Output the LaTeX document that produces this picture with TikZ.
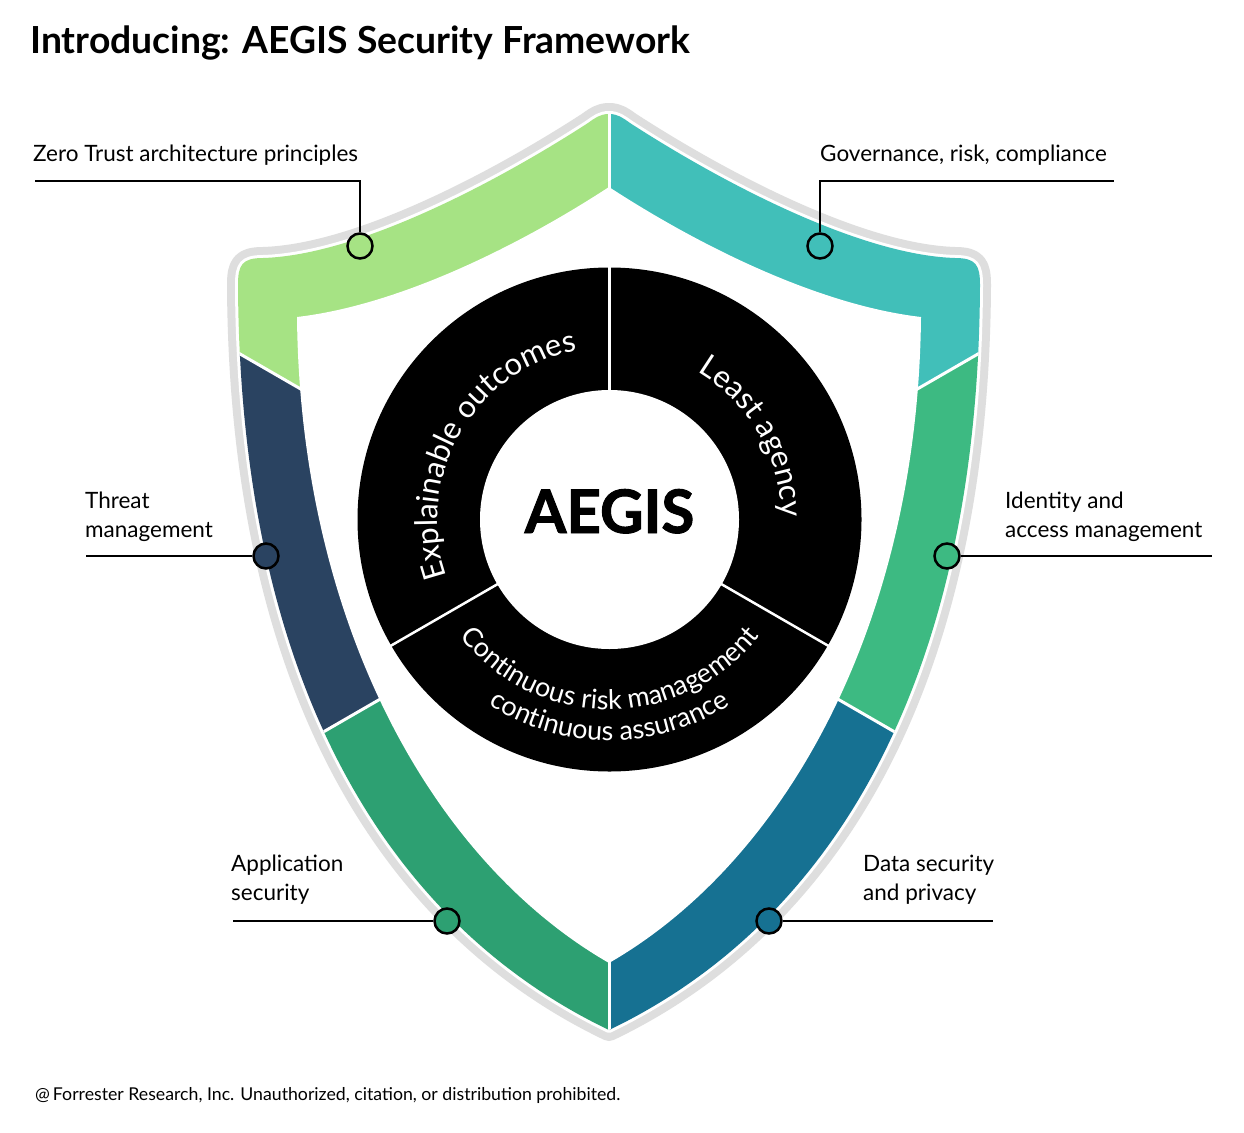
\documentclass[tikz,border=0pt]{standalone}
\usepackage{fontspec}
\setmainfont{Lato}
\newfontfamily\heavyfont{Lato Bold}[FakeBold=1.6]
\usetikzlibrary{decorations.text}

\definecolor{ztgreen}{HTML}{A6E384}
\definecolor{grcteal}{HTML}{41BFB9}
\definecolor{threatnavy}{HTML}{2A4361}
\definecolor{iamgreen}{HTML}{3DBA82}
\definecolor{appgreen}{HTML}{2DA072}
\definecolor{datablue}{HTML}{167192}
\definecolor{rimgray}{HTML}{DEDEDE}

% outer edge of the coloured band, and the edge of the white field inside it
\newcommand{\shieldouter}{(609,-114) .. controls (600,-114) and (595,-118) .. (588,-123)
  .. controls (500,-180) and (360,-255) .. (263,-258)
  .. controls (242,-258) and (238,-265) .. (238,-285)
  .. controls (240,-700) and (400,-930) .. (609,-1030)
  .. controls (818,-930) and (978,-700) .. (980,-285)
  .. controls (980,-265) and (976,-258) .. (955,-258)
  .. controls (858,-255) and (718,-180) .. (630,-123)
  .. controls (623,-118) and (618,-114) .. (609,-114) -- cycle}
\newcommand{\shieldinner}{(609,-187) .. controls (520,-245) and (400,-305) .. (297,-317)
  .. controls (300,-620) and (430,-860) .. (609,-963)
  .. controls (788,-860) and (918,-620) .. (921,-317)
  .. controls (818,-305) and (698,-245) .. (609,-187) -- cycle}

\newcommand{\ringfont}{\fontsize{31}{33}\selectfont}
\newcommand{\corefont}{\fontsize{27}{30}\selectfont}

\tikzset{
  titletext/.style={inner sep=0pt, font=\bfseries\fontsize{37.3}{40}\selectfont},
  areatext/.style={inner sep=0pt, align=left, font=\fontsize{22.5}{29}\selectfont},
  marker/.style={circle, draw=black, line width=2.5pt, minimum size=25pt, inner sep=0pt},
  leader/.style={draw=black, line width=2.2pt},
}

\begin{document}
\begin{tikzpicture}[x=1pt, y=1pt]
\useasboundingbox (0,0) rectangle (1244,-1132);
\fill[white] (0,0) rectangle (1244,-1132);

\node[titletext, anchor=base west] (title) at (30,-54) {Introducing: AEGIS Security Framework};

% rim
\draw[rimgray, line width=22pt, line join=round] \shieldouter;
\draw[white, line width=6pt, line join=round] \shieldouter;

% band, one wedge per area
\coordinate (hub) at (609,-567);
\foreach \a/\b/\col in {90/150/ztgreen, 150/210/threatnavy, 210/270/appgreen,
                        270/330/datablue, 330/390/iamgreen, 30/90/grcteal}{
  \begin{scope}
    \clip (hub) -- +(\a:700pt) -- +(\b:700pt) -- cycle;
    \fill[\col] \shieldouter;
  \end{scope}
}
\fill[white] \shieldinner;
\begin{scope}
  \clip \shieldouter;
  \foreach \a in {30,90,...,330}
    \draw[white, line width=3pt] (hub) -- +(\a:700pt);
\end{scope}

% ring
\coordinate (ringc) at (609.5,-519.5);
\fill[black] (ringc) circle[radius=252pt];
\fill[white] (ringc) circle[radius=129.5pt];
\foreach \a in {90,210,330}
  \draw[white, line width=2.5pt] (ringc) ++(\a:129pt) -- +(\a:124pt);

\node[inner sep=0pt, anchor=base, font=\heavyfont\fontsize{60}{60}\selectfont] (aegis) at (609.5,-533) {AEGIS};

\path[decorate, decoration={text along path, text align=center, text color=white,
  text={|\ringfont|Explainable outcomes}}]
  (ringc) ++(210:172pt) arc[start angle=210, end angle=90, radius=172pt];
\path[decorate, decoration={text along path, text align=center, text color=white,
  text={|\ringfont|Least agency}}]
  (ringc) ++(80:172pt) arc[start angle=80, end angle=-20, radius=172pt];
\path[decorate, decoration={text along path, text align=center, text color=white,
  text={|\corefont|Continuous risk management}}]
  (ringc) ++(200:190pt) arc[start angle=200, end angle=340, radius=190pt];
\path[decorate, decoration={text along path, text align=center, text color=white,
  text={|\corefont|continuous assurance}}]
  (ringc) ++(210:221pt) arc[start angle=210, end angle=330, radius=221pt];

% markers and leaders
\node[marker, fill=ztgreen] (zt) at (360,-246) {};
\node[marker, fill=grcteal] (grc) at (820,-246) {};
\node[marker, fill=threatnavy] (tm) at (266,-556) {};
\node[marker, fill=iamgreen] (iam) at (947,-556) {};
\node[marker, fill=appgreen] (app) at (447,-921) {};
\node[marker, fill=datablue] (data) at (769,-921) {};

\coordinate (ztend) at (35,-181);
\coordinate (grcend) at (1114,-181);
\coordinate (tmend) at (86,-556);
\coordinate (iamend) at (1212,-556);
\coordinate (append) at (233,-921);
\coordinate (dataend) at (993,-921);

\draw[leader] (zt) |- (ztend);
\draw[leader] (grc) |- (grcend);
\draw[leader] (tm) -- (tmend);
\draw[leader] (iam) -- (iamend);
\draw[leader] (app) -- (append);
\draw[leader] (data) -- (dataend);

\node[areatext, anchor=base west] (ztlabel) at (33,-161) {Zero Trust architecture principles};
\node[areatext, anchor=base west] (grclabel) at (820,-161) {Governance, risk, compliance};
\node[areatext, anchor=base west] (tmlabel) at (85,-537) {Threat\\management};
\node[areatext, anchor=base west] (iamlabel) at (1005,-537) {Identity and\\access management};
\node[areatext, anchor=base west] (applabel) at (231,-900) {Application\\security};
\node[areatext, anchor=base west] (datalabel) at (863,-900) {Data security\\and privacy};

\node[inner sep=0pt, anchor=base west, font=\fontsize{17.7}{20}\selectfont] (footer) at (35,-1100)
  {@\,Forrester Research, Inc. Unauthorized, citation, or distribution prohibited.};
\end{tikzpicture}
\end{document}
